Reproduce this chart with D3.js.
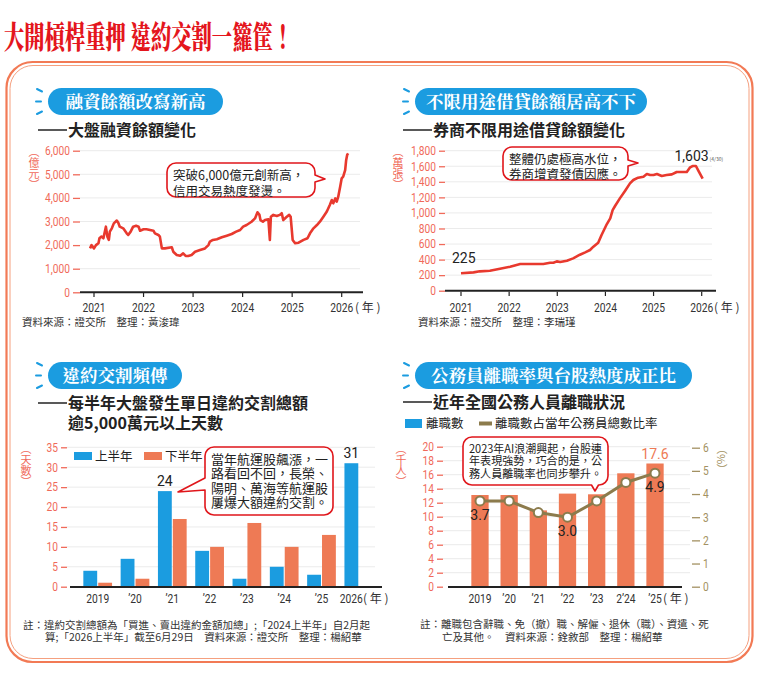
<!DOCTYPE html>
<html><head><meta charset="utf-8">
<script src="https://cdn.jsdelivr.net/npm/d3@7"></script>
<style>
body{margin:0;background:#fff;}
</style></head><body>
<script>
// ---- data ----
var marginYears = [2020.92,2020.95,2021.0,2021.04,2021.09,2021.11,2021.15,2021.19,2021.24,2021.27,2021.30,2021.32,2021.36,2021.40,2021.46,2021.49,2021.52,2021.59,2021.66,2021.69,2021.74,2021.79,2021.85,2021.90,2021.93,2022.0,2022.06,2022.13,2022.20,2022.23,2022.30,2022.33,2022.37,2022.43,2022.57,2022.60,2022.67,2022.74,2022.80,2022.85,2022.90,2022.97,2023.04,2023.14,2023.24,2023.31,2023.34,2023.40,2023.48,2023.58,2023.68,2023.78,2023.87,2023.95,2024.01,2024.08,2024.18,2024.25,2024.30,2024.34,2024.36,2024.41,2024.45,2024.52,2024.55,2024.57,2024.62,2024.69,2024.75,2024.79,2024.82,2024.88,2024.94,2024.97,2025.01,2025.06,2025.13,2025.23,2025.31,2025.36,2025.43,2025.50,2025.56,2025.63,2025.70,2025.76,2025.80,2025.83,2025.87,2025.90,2025.93,2025.97,2026.0,2026.03,2026.07,2026.09,2026.11,2026.13];
var marginValues = [1860,2000,1860,2000,2080,2290,2360,2290,2780,2360,2220,2570,2710,2920,3040,2950,2780,2710,2500,2430,2570,2780,2820,2780,2610,2670,2670,2640,2610,2500,2430,2360,1860,1860,1910,1720,1580,1550,1650,1540,1540,1580,1720,1790,1860,2000,2150,2220,2250,2330,2400,2470,2570,2640,2780,2850,2990,3130,3390,3280,3060,2990,3060,3090,2220,3200,3280,3230,3280,3350,3060,3180,3280,3200,2220,2080,2100,2220,2290,2500,2710,2850,2990,3200,3420,3700,3910,3770,3980,3840,4050,4480,4830,4900,5180,5600,5820,5890];

var loanYears = [2021.0,2021.26,2021.39,2021.60,2021.81,2022.02,2022.23,2022.43,2022.71,2022.85,2022.92,2022.99,2023.06,2023.20,2023.33,2023.47,2023.58,2023.68,2023.75,2023.85,2023.92,2024.03,2024.10,2024.15,2024.20,2024.30,2024.41,2024.51,2024.58,2024.68,2024.79,2024.86,2024.93,2025.0,2025.07,2025.17,2025.27,2025.38,2025.48,2025.58,2025.69,2025.76,2025.81,2025.88,2025.93,2026.02];
var loanValues = [225,236,249,257,283,309,343,343,343,360,360,377,369,386,416,463,493,523,566,617,716,857,930,1037,1089,1187,1286,1380,1423,1453,1466,1500,1487,1487,1500,1474,1487,1496,1526,1526,1526,1586,1603,1603,1543,1440];

var defaultCats = ["2019","’20","’21","’22","’23","’24","’25","2026"];
var defaultFirstHalf = [4,7,24,9,2,5,3,31];
var defaultSecondHalf = [1,2,17,10,16,10,13,null];

var quitCats = ["2019","’20","’21","’22","’23","2’24","’25"];
var quitCount = [13.1,13.1,10.9,13.3,13.2,16.2,17.6];
var quitRate = [3.7,3.7,3.2,3.0,3.7,4.5,4.9];

// ---- styles ----
var RED = "#e8392e", TICK = "#f06a5a", BLUE = "#1b9ce0", ORANGE = "#ee7a55",
    OLIVE = "#8c7b4c", RAXIS = "#a39162", CALL = "#e0161b", INK = "#222";
var CJK = "'Noto Sans CJK TC','Noto Sans',sans-serif";
var SERIF = "'Noto Serif CJK TC','Noto Sans CJK TC',serif";
var NUM = "'Liberation Sans Narrow',Roboto,sans-serif";

var svg = d3.select("body").append("svg").attr("width",760).attr("height",679).attr("font-family",CJK);

// squeeze numeric labels so they look like the condensed face of the original
function condense(sel, k){
  sel.each(function(){
    var w = this.getComputedTextLength();
    d3.select(this).attr("textLength", w*k).attr("lengthAdjust","spacingAndGlyphs");
  });
}

// title
svg.append("text").attr("x",4).attr("y",48).attr("font-size",31).attr("font-weight",900)
  .attr("fill","#e4161d").attr("textLength",289).attr("lengthAdjust","spacingAndGlyphs")
  .attr("font-family",SERIF).text("大開槓桿重押 違約交割一籮筐！");

// frame
svg.append("rect").attr("x",6.5).attr("y",62).attr("width",746).attr("height",600).attr("rx",26)
  .attr("fill","none").attr("stroke","#f27a55").attr("stroke-width",2.2);
svg.append("rect").attr("x",10).attr("y",65.5).attr("width",739).attr("height",593).attr("rx",23)
  .attr("fill","none").attr("stroke","#f5a07f").attr("stroke-width",1);

function badge(x, y, w, txt){
  svg.append("rect").attr("x",x).attr("y",y).attr("width",w).attr("height",27).attr("rx",13.5).attr("fill",BLUE);
  svg.append("text").attr("x",x+w/2).attr("y",y+20).attr("text-anchor","middle").attr("fill","#fff")
    .attr("font-size",17.5).attr("font-weight",700).attr("font-family",SERIF).text(txt);
  var rays = [[x-11,y+1,x-6,y+3.5],[x-12,y+13.5,x-7,y+13.5],[x-11,y+26,x-6,y+23.5]];
  svg.selectAll(null).data(rays).join("line")
    .attr("x1",d=>d[0]).attr("y1",d=>d[1]).attr("x2",d=>d[2]).attr("y2",d=>d[3])
    .attr("stroke",BLUE).attr("stroke-width",2).attr("stroke-linecap","round");
}

function subtitle(x, y, lines){
  svg.append("line").attr("x1",x).attr("x2",x+29).attr("y1",y-6).attr("y2",y-6).attr("stroke",INK).attr("stroke-width",1.5);
  lines.forEach(function(t,i){
    svg.append("text").attr("x",x+30).attr("y",y+i*20).attr("font-size",16).attr("font-weight",700)
      .attr("fill",INK).text(t);
  });
}

function vlabel(x, y, txt, color){
  svg.append("text").attr("x",x).attr("y",y).attr("font-size",11).attr("fill",color)
    .style("writing-mode","vertical-rl").text(txt);
}

function yAxis(scale, x, values, fmt, size, color, right){
  var ax = (right ? d3.axisRight(scale) : d3.axisLeft(scale))
    .tickValues(values).tickFormat(fmt).tickSize(size).tickPadding(3);
  var a = svg.append("g").attr("transform","translate("+x+",0)").call(ax);
  a.select(".domain").remove();
  a.attr("font-family",NUM).attr("font-size",12);
  a.selectAll("line").attr("stroke",color).attr("stroke-width",1.3);
  a.selectAll("text").attr("fill",color).call(condense,0.85);
}

function grid(scale, values, x0, x1){
  svg.append("g").selectAll("line").data(values).join("line")
    .attr("x1",x0).attr("x2",x1).attr("y1",d=>scale(d)).attr("y2",d=>scale(d))
    .attr("stroke","#ebebeb").attr("stroke-width",1);
}

function baseline(x0, x1, y){
  svg.append("line").attr("x1",x0).attr("x2",x1).attr("y1",y).attr("y2",y).attr("stroke",INK).attr("stroke-width",2);
}

function xLabels(items, y, lastX){
  svg.append("g").selectAll("text").data(items).join("text")
    .attr("x",d=>d.x).attr("y",y).attr("text-anchor","middle").attr("font-size",12.5)
    .attr("font-family",NUM).attr("fill","#333").text(d=>d.t).call(condense,0.82);
  svg.append("text").attr("x",lastX).attr("y",y).attr("font-size",12).attr("fill","#333").text("( 年 )");
}

function note(x, y, txt){
  svg.append("text").attr("x",x).attr("y",y).attr("font-size",10.5).attr("fill","#333").text(txt);
}

function bubble(x0, y0, x1, y1, side, a, b, tx, ty, lines, fs, lh, pad, fit){
  var r = 9, p = d3.path();
  p.moveTo(x0+r,y0);
  p.lineTo(x1-r,y0); p.arcTo(x1,y0,x1,y0+r,r);
  if (side==="right"){ p.lineTo(x1,a); p.lineTo(tx,ty); p.lineTo(x1,b); }
  p.lineTo(x1,y1-r); p.arcTo(x1,y1,x1-r,y1,r);
  if (side==="bottom"){ p.lineTo(b,y1); p.lineTo(tx,ty); p.lineTo(a,y1); }
  p.lineTo(x0+r,y1); p.arcTo(x0,y1,x0,y1-r,r);
  if (side==="left"){ p.lineTo(x0,b); p.lineTo(tx,ty); p.lineTo(x0,a); }
  p.lineTo(x0,y0+r); p.arcTo(x0,y0,x0+r,y0,r);
  p.closePath();
  svg.append("path").attr("d",p.toString()).attr("fill","#fff").attr("stroke",CALL).attr("stroke-width",1.6).attr("stroke-linejoin","round");
  lines.forEach(function(t,i){
    var tt = svg.append("text").attr("x",x0+pad).attr("y",y0+pad+fs*0.85+i*lh).attr("font-size",fs).attr("fill",INK).text(t);
    if (fit) tt.attr("textLength",fit).attr("lengthAdjust","spacingAndGlyphs");
  });
}

function numText(x, y, txt, anchor, color){
  return svg.append("text").attr("x",x).attr("y",y).attr("text-anchor",anchor).attr("font-size",14)
    .attr("font-family","Roboto,sans-serif").attr("fill",color||INK).text(txt);
}

// ===== panel 1 : margin balance =====
badge(48,88,175,"融資餘額改寫新高");
subtitle(38,136,["大盤融資餘額變化"]);
var x1 = d3.scaleLinear().domain([2021,2026]).range([94,341.7]);
var y1 = d3.scaleLinear().domain([0,6000]).range([292.3,150.7]);
var t1 = d3.range(0,6001,1000);
grid(y1, t1.slice(1), 80, 360);
yAxis(y1, 80, t1, d3.format(","), 7, TICK);
vlabel(34,146,"（億元）",TICK);
baseline(80,363,292.3);
var yrs = d3.range(2021,2027);
svg.append("g").selectAll("line").data(yrs).join("line")
  .attr("x1",d=>x1(d)).attr("x2",d=>x1(d)).attr("y1",293).attr("y2",297).attr("stroke",INK).attr("stroke-width",1.2);
xLabels(yrs.map(d=>({x:x1(d),t:String(d)})),312,355);
svg.append("path").datum(marginYears.map((d,i)=>[d,marginValues[i]]))
  .attr("d",d3.line().x(d=>x1(d[0])).y(d=>y1(d[1])))
  .attr("fill","none").attr("stroke",RED).attr("stroke-width",2.6).attr("stroke-linejoin","round");
bubble(167,163,315,197,"right",175,182,325,179,["突破6,000億元創新高，","信用交易熱度發燙。"],12.5,16.5,6);
note(22,326,"資料來源：證交所　整理：黃浚瑋");

// ===== panel 2 : unrestricted loans =====
badge(415,88,232,"不限用途借貸餘額居高不下");
subtitle(403,136,["券商不限用途借貸餘額變化"]);
var x2 = d3.scaleLinear().domain([2021,2026]).range([461,701.7]);
var y2 = d3.scaleLinear().domain([0,1800]).range([290.7,150.7]);
var t2 = d3.range(0,1801,200);
grid(y2, t2.slice(1), 445, 712);
yAxis(y2, 445, t2, d3.format(","), 6, TICK);
vlabel(398,146,"（萬張）",TICK);
baseline(445,716,290.7);
svg.append("g").selectAll("line").data(yrs).join("line")
  .attr("x1",d=>x2(d)).attr("x2",d=>x2(d)).attr("y1",291.7).attr("y2",296).attr("stroke",INK).attr("stroke-width",1.2);
xLabels(yrs.map(d=>({x:x2(d),t:String(d)})),312,714);
svg.append("path").datum(loanYears.map((d,i)=>[d,loanValues[i]]))
  .attr("d",d3.line().x(d=>x2(d[0])).y(d=>y2(d[1])))
  .attr("fill","none").attr("stroke",RED).attr("stroke-width",2.6).attr("stroke-linejoin","round");
numText(x2(loanYears[0])-9, y2(loanValues[0])-10, d3.format(",")(loanValues[0]), "start");
var pk = d3.maxIndex(loanValues);
numText(x2(loanYears[pk])-1, y2(loanValues[pk])-5, d3.format(",")(loanValues[pk]), "middle");
svg.append("text").attr("x",x2(loanYears[pk])+17).attr("y",y2(loanValues[pk])-5).attr("font-size",5)
  .attr("fill","#555").text("(4/30)");
bubble(503,147,628,180,"right",160,166,638,163,["整體仍處極高水位，","券商增資發債因應。"],12.5,15,6);
note(418,326,"資料來源：證交所　整理：李瑞瑾");

// ===== panel 3 : default settlement days =====
badge(48,362,134,"違約交割頻傳");
subtitle(38,409,["每半年大盤發生單日違約交割總額","逾5,000萬元以上天數"]);
var y3 = d3.scaleLinear().domain([0,35]).range([586.7,447.3]);
var t3 = d3.range(0,36,5);
grid(y3, t3.slice(1), 67, 375);
yAxis(y3, 67, t3, d3.format("d"), 6, TICK);
vlabel(26,443,"（天數）",TICK);
var xb = d3.scaleBand().domain(defaultCats).range([79.05,377.45]).paddingInner(0.23).paddingOuter(0.115);
var xs = d3.scaleBand().domain([0,1]).range([0,xb.bandwidth()]).paddingInner(0.07);
var bars3 = [];
defaultCats.forEach(function(c,i){
  bars3.push({c:c,s:0,v:defaultFirstHalf[i]});
  if (defaultSecondHalf[i]!=null) bars3.push({c:c,s:1,v:defaultSecondHalf[i]});
});
svg.append("g").selectAll("rect").data(bars3).join("rect")
  .attr("x",d=>xb(d.c)+xs(d.s)).attr("width",xs.bandwidth())
  .attr("y",d=>y3(d.v)).attr("height",d=>y3(0)-y3(d.v))
  .attr("fill",d=>d.s===0?BLUE:ORANGE);
baseline(70,382,587);
var lab3 = defaultCats.map(function(c,i){
  return {x: defaultSecondHalf[i]==null ? xb(c)+xs(0)+xs.bandwidth()/2 : xb(c)+xb.bandwidth()/2, t:c};
});
xLabels(lab3,603,363);
[2,7].forEach(function(i){
  var c = defaultCats[i];
  numText(xb(c)+xs(0)+xs.bandwidth()/2, y3(defaultFirstHalf[i])-5, defaultFirstHalf[i], "middle");
});
svg.append("rect").attr("x",74).attr("y",452).attr("width",18).attr("height",8).attr("fill",BLUE);
svg.append("text").attr("x",95).attr("y",460.5).attr("font-size",12.5).attr("fill",INK).text("上半年");
svg.append("rect").attr("x",144).attr("y",452).attr("width",18).attr("height",8).attr("fill",ORANGE);
svg.append("text").attr("x",165).attr("y",460.5).attr("font-size",12.5).attr("fill",INK).text("下半年");
bubble(205,447,333,515,"left",478,490,178,492,["當年航運股飆漲，一","路看回不回，長榮、","陽明、萬海等航運股","屢爆大額違約交割。"],13,14.3,6);
note(23,629,"註：違約交割總額為「買進、賣出違約金額加總」;「2024上半年」自2月起");
note(45,641,"算;「2026上半年」截至6月29日　資料來源：證交所　整理：楊紹華");

// ===== panel 4 : civil servant resignations =====
badge(415,362,277,"公務員離職率與台股熱度成正比");
subtitle(403,408,["近年全國公務人員離職狀況"]);
svg.append("rect").attr("x",405).attr("y",419).attr("width",17).attr("height",9).attr("fill",BLUE);
svg.append("text").attr("x",426).attr("y",428).attr("font-size",12.5).attr("fill",INK).text("離職數");
svg.append("line").attr("x1",479).attr("x2",492).attr("y1",423.5).attr("y2",423.5).attr("stroke",OLIVE).attr("stroke-width",4);
svg.append("text").attr("x",495).attr("y",428).attr("font-size",12.5).attr("fill",INK).text("離職數占當年公務員總數比率");
var yL = d3.scaleLinear().domain([0,20]).range([586.7,446.7]);
var yR = d3.scaleLinear().domain([0,6]).range([586.7,447.7]);
var t4 = d3.range(0,21,2);
grid(yL, t4.slice(1), 443, 690);
yAxis(yL, 443, t4, d3.format("d"), 6, TICK);
yAxis(yR, 692, d3.range(0,7), d3.format("d"), 8, RAXIS, true);
vlabel(401,443,"（千人）",TICK);
vlabel(722,443,"（%）",RAXIS);
var x4 = d3.scaleBand().domain(quitCats).range([465.4,669.6]).paddingInner(0.407).paddingOuter(0.2035);
svg.append("g").selectAll("rect").data(quitCount).join("rect")
  .attr("x",(d,i)=>x4(quitCats[i])).attr("width",x4.bandwidth())
  .attr("y",d=>yL(d)).attr("height",d=>yL(0)-yL(d)).attr("fill",ORANGE);
baseline(448,682,587);
xLabels(quitCats.map(c=>({x:x4(c)+x4.bandwidth()/2,t:c})),603,663);
var cx4 = (d,i)=>x4(quitCats[i])+x4.bandwidth()/2;
svg.append("path").datum(quitRate)
  .attr("d",d3.line().x(cx4).y(d=>yR(d)))
  .attr("fill","none").attr("stroke",OLIVE).attr("stroke-width",3);
svg.append("g").selectAll("circle").data(quitRate).join("circle")
  .attr("cx",cx4).attr("cy",d=>yR(d)).attr("r",4.5)
  .attr("fill","#fff").attr("stroke",OLIVE).attr("stroke-width",2);
[0,3,6].forEach(function(i){
  numText(cx4(quitRate[i],i), yR(quitRate[i])+19, quitRate[i].toFixed(1), "middle");
});
numText(cx4(quitCount[6],6), yL(quitCount[6])-5, quitCount[6], "middle", ORANGE);
bubble(463,437,608,485,"bottom",591.5,598.5,595,491,["2023年AI浪潮興起，台股連","年表現強勢，巧合的是，公","務人員離職率也同步攀升。"],11.5,12.6,6,133);
note(420,628,"註：離職包含辭職、免（撤）職、解僱、退休（職）、資遣、死");
note(442,641,"亡及其他。　資料來源：銓敘部　整理：楊紹華");
</script>
</body></html>
